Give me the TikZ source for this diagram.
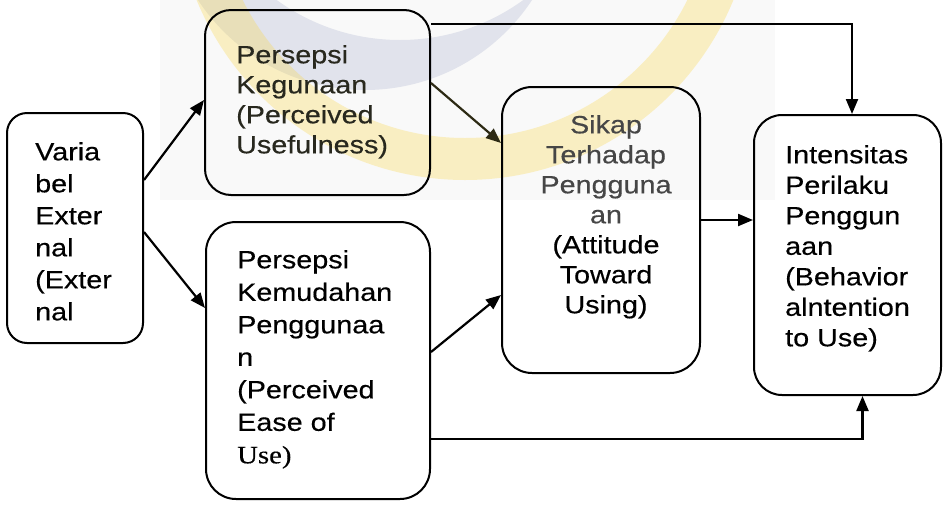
\documentclass[tikz,border=0pt]{standalone}
\usepackage{fontspec}
\setmainfont{Liberation Sans}[FakeStretch=1.15, FakeBold=0.4]
\newfontfamily\timesface{Liberation Serif}[FakeStretch=1.15, FakeBold=0.4]
\usetikzlibrary{arrows.meta}

\definecolor{ringyellow}{RGB}{250,215,70}
\definecolor{ringblue}{RGB}{130,140,185}
\definecolor{dimtext}{RGB}{40,40,30}
\definecolor{greytext}{RGB}{70,70,70}
\definecolor{olive}{RGB}{45,42,20}

\begin{document}
\begin{tikzpicture}[x=1pt,y=-1pt,
  box/.style={draw, line width=2pt, rounded corners=26pt, inner sep=0pt},
  txt/.style={inner sep=0pt, align=left, anchor=north west},
  arr/.style={line width=2.2pt, -{Triangle[length=15pt,width=12pt]}},
  ]
\useasboundingbox (0,0) rectangle (948,504);

% faint logo watermark in the background
\begin{scope}
  \clip (160,0) rectangle (775,200);
  \fill[gray!5] (160,0) rectangle (775,200);
  \fill[ringblue, opacity=0.2, even odd rule]
    (365,-110) circle[radius=200] (400,-170) circle[radius=210];
  \fill[ringyellow, opacity=0.3, even odd rule]
    (465,-110) circle[radius=290] (465,-110) circle[radius=248];
\end{scope}

% boxes
\node[box, rounded corners=20pt, minimum width=136pt, minimum height=230pt] (b1) at (75,228) {};
\node[box, minimum width=225pt, minimum height=185pt] (b2) at (317.5,102.5) {};
\node[box, rounded corners=30pt, minimum width=198pt, minimum height=286pt] (b3) at (601,230) {};
\node[box, rounded corners=30pt, minimum width=224pt, minimum height=277pt] (b4) at (318,360.5) {};
\node[box, rounded corners=28pt, minimum width=187pt, minimum height=280pt] (b5) at (847.5,255) {};

% box texts
\node[txt, font=\fontsize{25}{32}\selectfont] (t1) at (35,142)
  {Varia\\bel\\Exter\\nal\\(Exter\\nal};
\node[txt, text=dimtext, font=\fontsize{25}{30}\selectfont] (t2) at (236,45)
  {Persepsi\\Kegunaan\\(Perceived\\Usefulness)};
\node[inner sep=0pt, align=center, anchor=north, font=\fontsize{25}{30}\selectfont] (t3) at (606,115)
  {\textcolor{greytext}{Sikap}\\\textcolor{greytext}{Terhadap}\\\textcolor{greytext}{Pengguna}\\\textcolor{greytext}{an}\\(Attitude\\Toward\\Using)};
\node[txt, font=\fontsize{25}{32.5}\selectfont] (t4) at (237,250)
  {Persepsi\\Kemudahan\\Penggunaa\\n\\(Perceived\\Ease of\\{\timesface Use)}};
\node[txt, font=\fontsize{25}{30.5}\selectfont] (t5) at (785,145)
  {Intensitas\\Perilaku\\Penggun\\aan\\(Behavior\\alntention\\to Use)};

% connectors
\draw[arr] ([yshift=48pt]b1.east) -- ([yshift=2.5pt]b2.west);
\draw[arr] ([yshift=-4pt]b1.east) -- ([yshift=52.5pt]b4.west);
\draw[arr, olive] ([yshift=19.5pt]b2.east) -- ([yshift=87pt]b3.west);
\draw[arr] ([yshift=8.5pt]b4.east) -- ([yshift=-65pt]b3.west);
\coordinate (c3) at ([yshift=10pt]b3.east);
\draw[arr] (c3) -- (c3 -| b5.west);
\draw[arr] ([yshift=78.5pt]b2.east) -| ([xshift=4.5pt]b5.north);
\draw[arr] ([yshift=-78.5pt]b4.east) -| ([xshift=15pt]b5.south);
\end{tikzpicture}
\end{document}
